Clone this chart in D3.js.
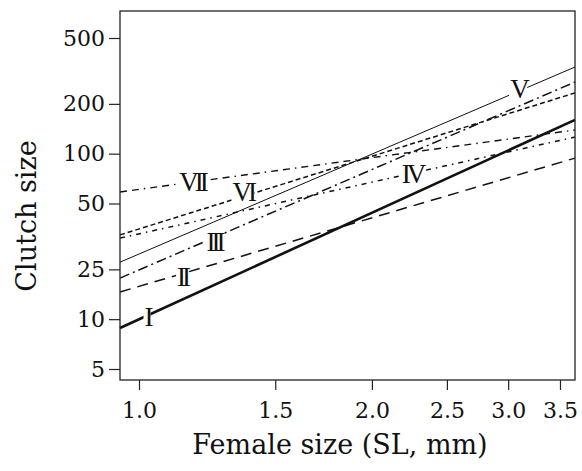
<!DOCTYPE html>
<html lang="en">
<head>
    <meta charset="UTF-8">
    <title>Clutch size vs female size</title>
    <script src="https://d3js.org/d3.v7.min.js"></script>
    <style>
        body {
            margin: 0;
            background-color: #ffffff;
        }

        svg {
            display: block;
            background-color: #ffffff;
        }

        .axis text {
            font-family: "DejaVu Serif", serif;
            font-size: 22px;
            fill: #111;
        }

        .axis line {
            stroke: #222;
            stroke-width: 1.2px;
        }

        .frame {
            fill: none;
            stroke: #222;
            stroke-width: 1.3px;
        }

        .axis-title {
            font-family: "DejaVu Serif", serif;
            font-size: 27px;
            fill: #111;
        }

        .fit {
            fill: none;
            stroke: #111;
        }

        .num-label {
            font-family: "Liberation Serif", serif;
            font-size: 27px;
            letter-spacing: -4px;
            fill: #111;
        }
    </style>
</head>
<body>
<svg width="582" height="471"></svg>
<script>
    // female size (SL, mm) at the left and right edge of the plot
    const sizes = [0.945, 3.66];

    const groups = ["I", "II", "III", "IV", "V", "VI", "VII"];
    // clutch size of each fitted line at sizes[0] and sizes[1]
    const clutchAtLeft = [8.84, 14.6, 17.7, 30.9, 22.1, 32.3, 58.7];
    const clutchAtRight = [160, 94, 271, 126, 334, 233, 139];
    // female size where the group label sits on its line
    const labelAt = [1.018, 1.13, 1.243, 2.24, 3.07, 1.354, 1.164];

    const xTicks = [1.0, 1.5, 2.0, 2.5, 3.0, 3.5];
    const yTicks = [5, 10, 20, 50, 100, 200, 500];
    const yTickLabels = ["5", "10", "25", "50", "100", "200", "500"];

    const svg = d3.select("svg"),
        margin = {top: 11, right: 7, bottom: 91, left: 120},
        width = +svg.attr("width") - margin.left - margin.right,
        height = +svg.attr("height") - margin.top - margin.bottom,
        g = svg.append("g").attr("transform", `translate(${margin.left},${margin.top})`);

    const x = d3.scaleLog().domain(sizes).range([0, width]),
        y = d3.scaleLog().domain([4.29, 728]).range([height, 0]);

    // line look per group
    const styles = {
        "I":   {w: 2.6, dash: null, dy: 0},
        "II":  {w: 1.5, dash: "11,7", dy: 3},
        "III": {w: 1.5, dash: "10,4,2,4", dy: 4},
        "IV":  {w: 1.5, dash: "5,5,1.5,5", dy: 0},
        "V":   {w: 1.0, dash: null, dy: -3},
        "VI":  {w: 1.5, dash: "5,3", dy: -5},
        "VII": {w: 1.4, dash: "7,5,7,5,1.5,5", dy: 0}
    };

    const data = groups.map((name, i) => ({
        name: name,
        points: [
            {size: sizes[0], clutch: clutchAtLeft[i]},
            {size: sizes[1], clutch: clutchAtRight[i]}
        ],
        labelAt: labelAt[i],
        lineAt: s => Math.exp(
            Math.log(clutchAtLeft[i]) +
            (Math.log(clutchAtRight[i]) - Math.log(clutchAtLeft[i])) *
            (Math.log(s) - Math.log(sizes[0])) / (Math.log(sizes[1]) - Math.log(sizes[0])))
    }));

    const line = d3.line()
        .x(d => x(d.size))
        .y(d => y(d.clutch));

    // axes
    g.append("g")
        .attr("class", "axis axis--x")
        .attr("transform", `translate(0,${height})`)
        .call(d3.axisBottom(x)
            .tickValues(xTicks)
            .tickFormat(d3.format(".1f"))
            .tickSize(10)
            .tickPadding(12))
        .call(a => a.select(".domain").remove());

    g.append("g")
        .attr("class", "axis axis--y")
        .call(d3.axisLeft(y)
            .tickValues(yTicks)
            .tickFormat((d, i) => yTickLabels[i])
            .tickSize(11)
            .tickPadding(4))
        .call(a => a.select(".domain").remove());

    // lines
    data.forEach(function(d) {
        const st = styles[d.name];
        g.append("path")
            .datum(d.points)
            .attr("class", "fit")
            .style("stroke-width", st.w)
            .style("stroke-dasharray", st.dash)
            .attr("d", line);
    });

    // group labels with a white patch behind them
    data.forEach(function(d) {
        const st = styles[d.name];
        const lg = g.append("g");
        const t = lg.append("text")
            .attr("class", "num-label")
            .attr("x", x(d.labelAt) + 2)
            .attr("y", y(d.lineAt(d.labelAt)) + st.dy)
            .attr("text-anchor", "middle")
            .attr("dominant-baseline", "central")
            .text(d.name);
        const bb = t.node().getBBox();
        lg.insert("rect", "text")
            .attr("x", bb.x - 1)
            .attr("y", bb.y + 5)
            .attr("width", bb.width - 2)
            .attr("height", bb.height - 9)
            .attr("fill", "#fff");
    });

    // frame
    g.append("rect")
        .attr("class", "frame")
        .attr("width", width)
        .attr("height", height);

    // axis titles
    svg.append("text")
        .attr("class", "axis-title")
        .attr("transform", "translate(36,216) rotate(-90)")
        .attr("text-anchor", "middle")
        .text("Clutch size");

    svg.append("text")
        .attr("class", "axis-title")
        .attr("x", 340)
        .attr("y", 454)
        .attr("text-anchor", "middle")
        .text("Female size (SL, mm)");
</script>
</body>
</html>
